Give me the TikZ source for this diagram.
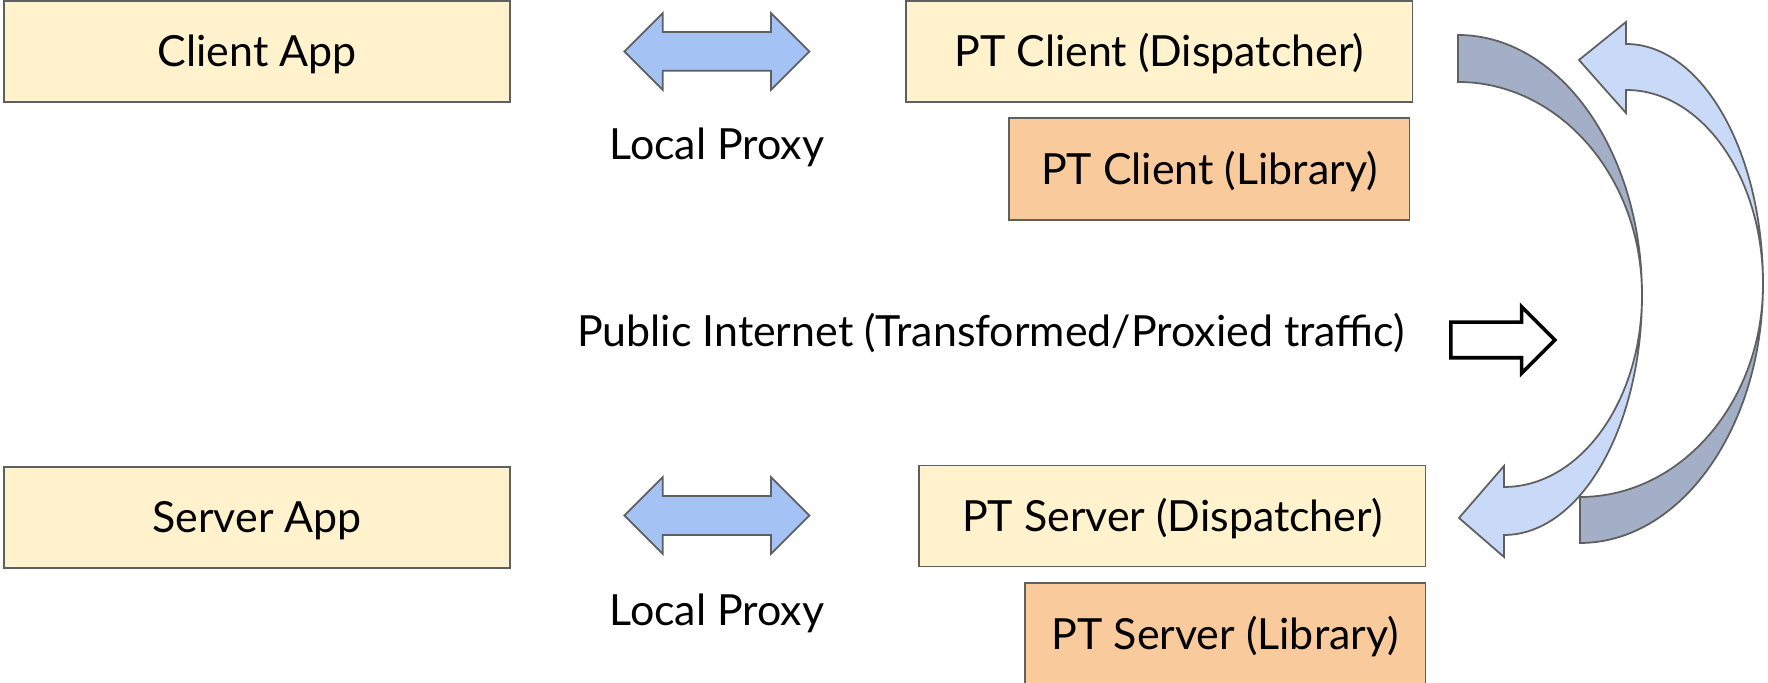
\documentclass[tikz,border=0pt]{standalone}
\usepackage{fontspec}
\setmainfont{Lato}
\usepackage{tikz}
\usetikzlibrary{positioning,shapes.arrows}
\definecolor{boxyellow}{HTML}{FFF2CC}
\definecolor{boxorange}{HTML}{F9CB9C}
\definecolor{edgegray}{HTML}{5F5F5F}
\definecolor{proxyblue}{HTML}{A4C2F4}
\definecolor{frontblue}{HTML}{C9DAF8}
\definecolor{backblue}{HTML}{A2AFC6}

\begin{document}
\begin{tikzpicture}[x=0.01cm,y=0.01cm,node distance=1cm,line join=miter,
  box/.style={draw=edgegray,line width=0.5pt,fill=boxyellow,minimum width=5.06cm,minimum height=1.01cm,inner sep=0pt,text height=8.7pt,text depth=0pt,font=\fontsize{12.2}{15}\selectfont},
  lib/.style={box,fill=boxorange,minimum width=4cm,minimum height=1.02cm},
  txt/.style={inner sep=0pt,font=\fontsize{12.2}{15}\selectfont},
  proxy/.style={double arrow,draw=edgegray,line width=0.5pt,fill=proxyblue,minimum height=1.85cm,inner sep=0.185cm,double arrow head extend=0.19cm},
  hollow/.style={single arrow,draw=black,line width=1pt,fill=white,minimum height=1.04cm,inner sep=0.16cm,single arrow head extend=0.155cm},
  turn/.style={draw=edgegray,line width=0.5pt}]
\useasboundingbox (0,0) rectangle (1768,683);
\node[box] at (257,631.5) (c0) {Client App};
\node[box,right=3.94cm of c0] (c1) {PT Client (Dispatcher)};
\node[lib,below=0.14cm of c1.south east,anchor=north east,xshift=-0.03cm] (c2) {PT Client (Library)};
\node[box,below=3.63cm of c0] (s0) {Server App};
\node[box,right=4.07cm of s0,yshift=0.015cm] (s1) {PT Server (Dispatcher)};
\node[lib,below=0.15cm of s1.south east,anchor=north east] (s2) {PT Server (Library)};

\node[proxy,right=1.12cm of c0] (p0) {};
\node[proxy,right=1.12cm of s0,yshift=0.02cm] (p1) {};
\node[txt,yshift=-0.96cm] at (p0) (l0) {Local Proxy};
\node[txt,yshift=-0.98cm] at (p1) (l1) {Local Proxy};

\node[txt,anchor=base] at (991,336) (t0) {Public Internet (Transformed/Proxied traffic)};
\node[hollow,anchor=tail] at (1449,343) (a0) {};

\draw[turn,fill=backblue] (1458,648) arc[start angle=90,end angle=0,x radius=184,y radius=260]
  arc[start angle=0,end angle=90,x radius=184,y radius=213] -- cycle;
\draw[turn,fill=frontblue] (1642,388) arc[start angle=0,end angle=-90,x radius=138,y radius=240]
  -- (1504,126) -- (1459,165) -- (1504,217) -- (1504,196)
  arc[start angle=-90,end angle=0,x radius=138,y radius=192] -- cycle;
\draw[turn,fill=backblue] (1763,399) arc[start angle=0,end angle=-90,x radius=183,y radius=259]
  -- (1580,186) arc[start angle=-90,end angle=0,x radius=183,y radius=213] -- cycle;
\draw[turn,fill=frontblue] (1763,399) arc[start angle=0,end angle=90,x radius=137,y radius=240]
  -- (1626,661) -- (1579,623) -- (1626,570) -- (1626,593)
  arc[start angle=90,end angle=0,x radius=137,y radius=194] -- cycle;
\end{tikzpicture}
\end{document}
